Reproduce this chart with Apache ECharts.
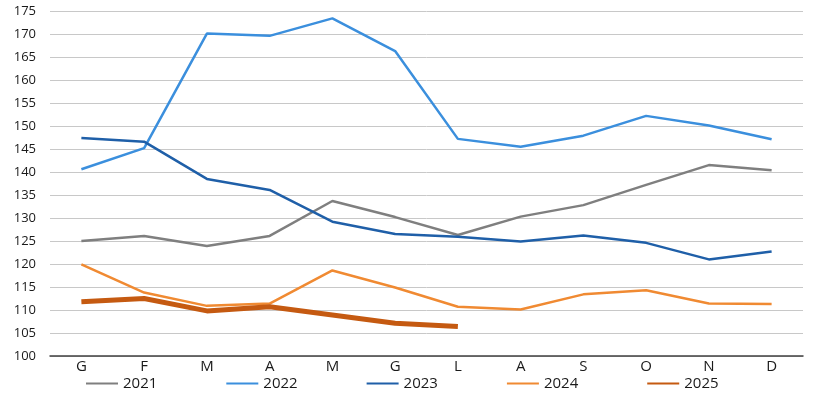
<!DOCTYPE html>
<html>
<head>
<meta charset="utf-8">
<script src="https://cdn.jsdelivr.net/npm/echarts@6/dist/echarts.min.js"></script>
<style>
  html, body { margin: 0; padding: 0; background: #fff; }
  #chart { width: 820px; height: 398px; }
</style>
</head>
<body>
<div id="chart"></div>
<script>
// mesi (iniziali)
const months = ['G', 'F', 'M', 'A', 'M', 'G', 'L', 'A', 'S', 'O', 'N', 'D'];

const y2021 = [125.0, 126.1, 123.9, 126.1, 133.7, 130.2, 126.3, 130.3, 132.8, 137.2, 141.5, 140.4];
const y2022 = [140.6, 145.2, 170.1, 169.6, 173.4, 166.3, 147.2, 145.5, 147.9, 152.2, 150.1, 147.1];
const y2023 = [147.4, 146.6, 138.5, 136.1, 129.2, 126.5, 125.9, 124.9, 126.2, 124.6, 121.0, 122.7];
const y2024 = [119.9, 113.8, 110.9, 111.4, 118.6, 114.9, 110.7, 110.1, 113.4, 114.3, 111.4, 111.3];
const y2025 = [111.8, 112.5, 109.8, 110.7, 108.9, 107.1, 106.4];

const yearNames = ['2021', '2022', '2023', '2024', '2025'];
const yearData = [y2021, y2022, y2023, y2024, y2025];
const colors = ['#7f7f7f', '#3b8fdd', '#1f5fa8', '#f08a32', '#c55a11'];
const widths = [2.5, 2.5, 2.5, 2.5, 5];

const series = yearNames.map((name, i) => ({
  name: name,
  type: 'line',
  data: yearData[i],
  symbol: 'none',
  smooth: false,
  lineStyle: { color: colors[i], width: widths[i] },
  itemStyle: { color: colors[i] },
  z: i === 4 ? 5 : 2
}));

const chart = echarts.init(document.getElementById('chart'));
chart.setOption({
  backgroundColor: '#fff',
  animation: false,
  textStyle: { fontFamily: 'Open Sans' },
  grid: { left: 50, right: 17, top: 11, bottom: 42 },
  legend: {
    data: yearNames,
    bottom: 2,
    left: 80,
    itemWidth: 32,
    itemHeight: 6,
    itemGap: 68,
    itemStyle: { opacity: 0 },
    textStyle: { fontSize: 15, color: '#1a1a1a', fontFamily: 'Open Sans' }
  },
  xAxis: {
    type: 'category',
    data: months,
    boundaryGap: true,
    axisLine: { lineStyle: { color: '#404040', width: 1.5 } },
    axisTick: { inside: true, length: 5, lineStyle: { color: '#404040' } },
    axisLabel: { fontSize: 15, color: '#1a1a1a', margin: 3 },
    splitLine: { show: false }
  },
  yAxis: {
    type: 'value',
    min: 100,
    max: 175,
    interval: 5,
    axisLine: { show: false },
    axisTick: { show: false },
    axisLabel: { fontSize: 13, color: '#1a1a1a', margin: 14 },
    splitLine: { lineStyle: { color: '#c8c8c8', width: 1 } }
  },
  series: series
});
</script>
</body>
</html>
